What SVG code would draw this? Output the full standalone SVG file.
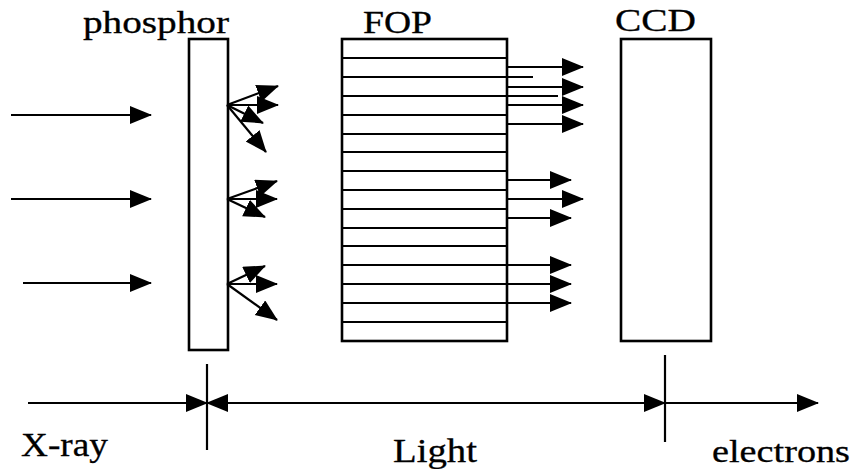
<svg xmlns="http://www.w3.org/2000/svg" width="857" height="469" viewBox="0 0 857 469">
<style>
.ln{stroke:#000;stroke-width:2.2;fill:none}
.ar{stroke:#000;stroke-width:2.2;fill:none;marker-end:url(#ah)}
.box{stroke:#000;stroke-width:2.6;fill:#fff}
.t{fill:#000;stroke:#000;stroke-width:0.3}
</style>
<defs>
<marker id="ah" markerUnits="userSpaceOnUse" markerWidth="23" markerHeight="19" refX="21" refY="9" orient="auto">
<path d="M0,0 L22,9 L0,18 z" fill="#000"/>
</marker>
<marker id="ahs" markerUnits="userSpaceOnUse" markerWidth="23" markerHeight="19" refX="21" refY="9" orient="auto-start-reverse">
<path d="M0,0 L22,9 L0,18 z" fill="#000"/>
</marker>
</defs>
<rect width="857" height="469" fill="#fff"/>

<g id="phosphor">
<rect class="box" x="189" y="39" width="39" height="311"/>
<text class="t" font-family="'Liberation Serif', serif" x="83" y="33" font-size="31" textLength="146" lengthAdjust="spacingAndGlyphs">phosphor</text>
</g>

<g id="fop">
<rect class="box" x="342" y="39" width="165" height="302"/>
<path class="ln" d="M342,58H507M342,77H507M342,96H507M342,115H507M342,134H507M342,152H507M342,171H507M342,190H507M342,209H507M342,228H507M342,246H507M342,265H507M342,284H507M342,303H507M342,322H507"/>
<text class="t" font-family="'Liberation Serif', serif" x="363" y="33" font-size="31" textLength="69" lengthAdjust="spacingAndGlyphs">FOP</text>
</g>

<g id="ccd">
<rect class="box" x="621" y="39" width="90" height="302"/>
<text class="t" font-family="'Liberation Serif', serif" x="615" y="31" font-size="31" textLength="81" lengthAdjust="spacingAndGlyphs">CCD</text>
</g>

<g id="labels">
<text class="t" font-family="'Liberation Serif', serif" x="21" y="456" font-size="33" textLength="87" lengthAdjust="spacingAndGlyphs">X-ray</text>
<text class="t" font-family="'Liberation Serif', serif" x="393" y="462" font-size="33" textLength="84" lengthAdjust="spacingAndGlyphs">Light</text>
<text class="t" font-family="'Liberation Serif', serif" x="712" y="462" font-size="32" textLength="138" lengthAdjust="spacingAndGlyphs">electrons</text>
</g>

<g id="connectors">
<line class="ar" x1="11" y1="115" x2="151" y2="115"/>
<line class="ar" x1="11" y1="199" x2="151" y2="199"/>
<line class="ar" x1="23" y1="283" x2="151" y2="283"/>
<line class="ar" x1="227" y1="105" x2="278" y2="86"/>
<line class="ar" x1="227" y1="105" x2="278" y2="105"/>
<line class="ar" x1="227" y1="105" x2="263" y2="123"/>
<line class="ar" x1="227" y1="105" x2="266" y2="152"/>
<line class="ar" x1="227" y1="199" x2="277" y2="181"/>
<line class="ar" x1="227" y1="199" x2="277" y2="199"/>
<line class="ar" x1="227" y1="199" x2="265" y2="217"/>
<line class="ar" x1="227" y1="284" x2="265" y2="266"/>
<line class="ar" x1="227" y1="284" x2="277" y2="284"/>
<line class="ar" x1="227" y1="284" x2="277" y2="320"/>
<line class="ar" x1="507" y1="67" x2="583" y2="67"/>
<line class="ln" x1="367" y1="77" x2="533" y2="77"/>
<line class="ar" x1="507" y1="87" x2="583" y2="87"/>
<line class="ln" x1="393" y1="96" x2="558" y2="96"/>
<line class="ar" x1="507" y1="105" x2="583" y2="105"/>
<line class="ar" x1="507" y1="124" x2="583" y2="124"/>
<line class="ar" x1="507" y1="180" x2="571" y2="180"/>
<line class="ar" x1="507" y1="199" x2="583" y2="199"/>
<line class="ar" x1="507" y1="218" x2="571" y2="218"/>
<line class="ar" x1="507" y1="265" x2="571" y2="265"/>
<line class="ar" x1="507" y1="284" x2="571" y2="284"/>
<line class="ar" x1="507" y1="303" x2="571" y2="303"/>
<line class="ln" x1="207" y1="364" x2="207" y2="450"/>
<line class="ln" x1="665" y1="355" x2="665" y2="442"/>
<line class="ar" x1="28" y1="403" x2="207" y2="403"/>
<line class="ln" x1="207" y1="403" x2="665" y2="403" marker-start="url(#ahs)" marker-end="url(#ah)"/>
<line class="ar" x1="665" y1="403" x2="818" y2="403"/>
</g>
</svg>
